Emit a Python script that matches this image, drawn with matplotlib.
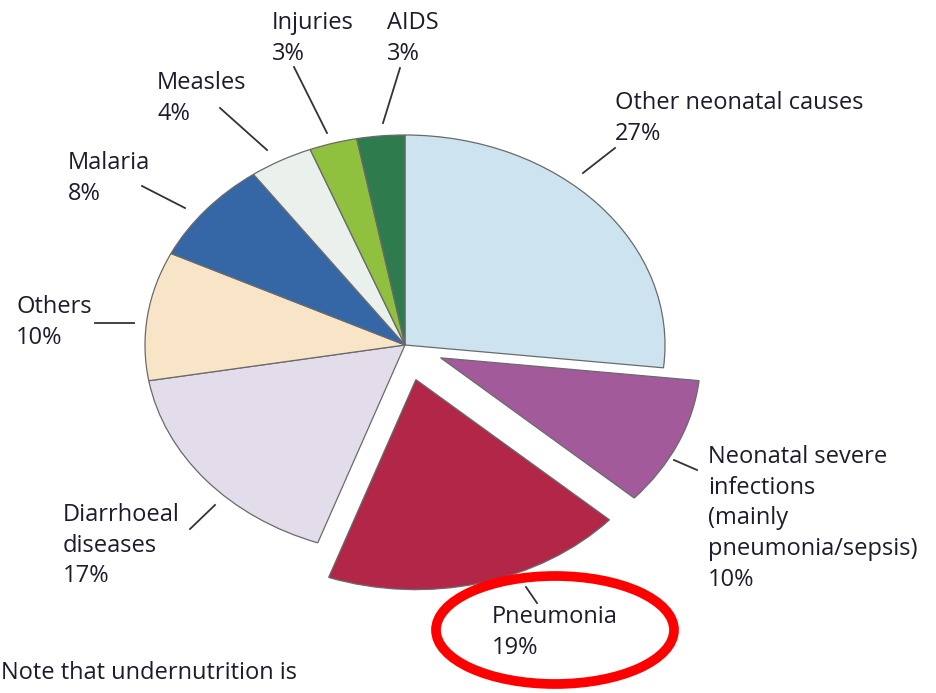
import matplotlib.pyplot as plt
from matplotlib.patches import Ellipse

plt.rcParams['font.family'] = ['Open Sans', 'DejaVu Sans']

causes = ['Other neonatal causes', 'Neonatal severe\ninfections\n(mainly\npneumonia/sepsis)',
          'Pneumonia', 'Diarrhoeal\ndiseases', 'Others', 'Malaria', 'Measles', 'Injuries', 'AIDS']
shares = [27, 10, 19, 17, 10, 8, 4, 3, 3]
colors = ['#cde4f0', '#a35a9b', '#b22648', '#e3dcea', '#f8e5c7', '#3567a7', '#eaf0eb', '#8fc13f', '#2e7c4e']
explode = [0, 0.15, 0.17, 0, 0, 0, 0, 0, 0]

# pie centre and radii in pixels (picture is an ellipse, not a circle)
CX, CY, RX, RY = 405, 345, 260, 210
W, H = 936, 693


def px(x, y):
    # pixel position (from top-left) -> data coords
    return (x - CX) / RX, (CY - y) / RY


fig = plt.figure(figsize=(9.36, 6.93), dpi=100)
ax = fig.add_axes([0, 0, 1, 1])
ax.axis('off')

ax.pie(shares, colors=colors, explode=explode, startangle=90, counterclock=False,
       wedgeprops=dict(edgecolor='#6a6a6a', linewidth=0.9))
ax.set_xlim(-CX / RX, (W - CX) / RX)
ax.set_ylim(-(H - CY) / RY, CY / RY)
ax.set_aspect('auto')

# label text, top-left pixel of each block
label_pos = {
    'Other neonatal causes': (615, 91),
    'Neonatal severe\ninfections\n(mainly\npneumonia/sepsis)': (708, 445),
    'Pneumonia': (492, 605),
    'Diarrhoeal\ndiseases': (63, 503),
    'Others': (16, 295),
    'Malaria': (68, 151),
    'Measles': (157, 71),
    'Injuries': (272, 11),
    'AIDS': (387, 11),
}
# leader lines: (x0, y0, x1, y1) in pixels
leaders = {
    'Other neonatal causes': (615, 148, 583, 173),
    'Neonatal severe\ninfections\n(mainly\npneumonia/sepsis)': (697, 470, 674, 460),
    'Pneumonia': (537, 603, 526, 587),
    'Diarrhoeal\ndiseases': (190, 529, 215, 505),
    'Others': (95, 323, 134, 323),
    'Malaria': (142, 186, 185, 208),
    'Measles': (220, 108, 267, 150),
    'Injuries': (294, 67, 327, 133),
    'AIDS': (400, 68, 383, 123),
}

txtcol = '#1c1c2c'
for name, val in zip(causes, shares):
    x, y = label_pos[name]
    ax.text(*px(x, y), f'{name}\n{val}%', ha='left', va='top', fontsize=17,
            color=txtcol, linespacing=1.37)
    x0, y0, x1, y1 = leaders[name]
    p0, p1 = px(x0, y0), px(x1, y1)
    ax.plot([p0[0], p1[0]], [p0[1], p1[1]], color='#333333', lw=1.3)

ax.text(*px(1, 673), 'Note that undernutrition is', ha='left', va='center',
        fontsize=17, color=txtcol)

# red highlight ring around the Pneumonia label
ecx, ecy = px(555, 630)
ax.add_patch(Ellipse((ecx, ecy), 238 / RX, 108 / RY, fill=False, edgecolor='#ff0000', lw=7))

fig.savefig('out.png', dpi=100)
